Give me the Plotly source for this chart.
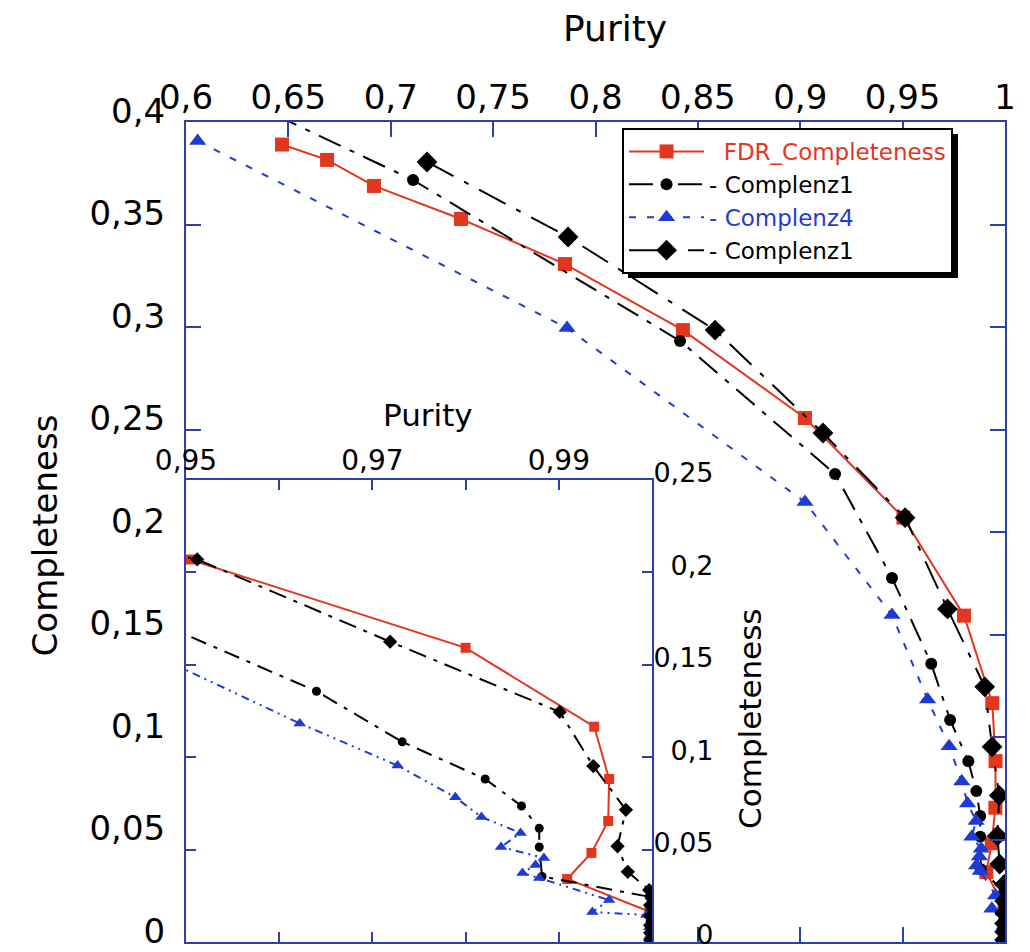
import plotly.graph_objects as go

# ---------------- data ----------------
purity_fdr = [0.6469, 0.6689, 0.6918, 0.7343, 0.7851, 0.8427, 0.9023, 0.9504,
              0.9800, 0.9938, 0.9954, 0.9953, 0.9935, 0.9909, 0.9997, 1.0000, 1.0000]
compl_fdr = [0.3890, 0.3815, 0.3688, 0.3527, 0.3307, 0.2985, 0.2556, 0.2070,
             0.1592, 0.1165, 0.0882, 0.0655, 0.0482, 0.0341, 0.0165, 0.0080, 0.0020]

purity_cz1a = [0.6000, 0.7109, 0.8413, 0.9170, 0.9448, 0.9640, 0.9732, 0.9821,
               0.9860, 0.9879, 0.9879, 0.9882, 0.9997, 0.9998, 0.9998, 0.9998]
compl_cz1a = [0.4240, 0.3717, 0.2932, 0.2283, 0.1776, 0.1357, 0.1083, 0.0882,
              0.0736, 0.0615, 0.0514, 0.0355, 0.0245, 0.0170, 0.0110, 0.0060]

purity_cz4 = [0.6057, 0.7861, 0.9023, 0.9448, 0.9622, 0.9727, 0.9789, 0.9817,
              0.9859, 0.9838, 0.9884, 0.9875, 0.9861, 0.9879, 0.9954, 0.9936,
              0.9994, 0.9997, 0.9997]
compl_cz4 = [0.3907, 0.2995, 0.2146, 0.1595, 0.1183, 0.0955, 0.0783, 0.0676,
             0.0590, 0.0514, 0.0455, 0.0417, 0.0373, 0.0346, 0.0227, 0.0162,
             0.0146, 0.0080, 0.0030]

purity_cz1b = [0.7177, 0.7866, 0.8584, 0.9111, 0.9512, 0.9719, 0.9901, 0.9937,
               0.9972, 0.9963, 0.9974, 0.9997, 0.9998, 0.9998, 0.9998, 0.9998, 0.9998]
compl_cz1b = [0.3805, 0.3439, 0.2985, 0.2483, 0.2070, 0.1625, 0.1245, 0.0952,
              0.0715, 0.0518, 0.0380, 0.0281, 0.0200, 0.0140, 0.0090, 0.0050, 0.0010]

series_names = ["FDR_Completeness", "Complenz1", "Complenz4", "Complenz1"]

inset_x_ticks = [0.95, 0.96, 0.97, 0.98, 0.99, 1.00]
inset_x_labels = ["0,95", "", "0,97", "", "0,99", ""]
inset_y_ticks = [0, 0.05, 0.10, 0.15, 0.20, 0.25]
inset_y_labels = ["\u2008\u2007\u20070", "0,05", "\u20070,1", "0,15", "\u20070,2", "0,25"]

# ---------------- style ----------------
AXIS_BLUE = "#2f3fae"
RED = "#e2361f"
BLUE = "#1f3bd6"
BLACK = "#000000"
FONT = "DejaVu Sans"

styles = [
    dict(x=purity_fdr, y=compl_fdr, color=RED, symbol="square", dash="solid",
         dash_in="solid", size=14, size_in=10,
         label='\u00a0\u00a0<span style="color:%s">%s</span>' % (RED, series_names[0])),
    dict(x=purity_cz1a, y=compl_cz1a, color=BLACK, symbol="circle",
         dash="24px,10px,5px,10px", dash_in="16px,8px,4px,8px", size=12, size_in=9,
         label="- " + series_names[1]),
    dict(x=purity_cz4, y=compl_cz4, color=BLUE, symbol="triangle-up",
         dash="7px,11px", dash_in="2px,5px,2px,5px,8px,5px", size=15, size_in=11,
         label='<span style="color:%s">- %s</span>' % (BLUE, series_names[2])),
    dict(x=purity_cz1b, y=compl_cz1b, color=BLACK, symbol="diamond",
         dash="30px,12px,5px,12px", dash_in="18px,8px,4px,8px", size=16, size_in=11,
         label="- " + series_names[3]),
]

fig = go.Figure()

for s in styles:
    fig.add_trace(go.Scatter(
        x=s["x"], y=s["y"], mode="lines+markers", name=s["label"],
        line=dict(color=s["color"], width=2, dash=s["dash"]),
        marker=dict(symbol=s["symbol"], size=s["size"], color=s["color"]),
        xaxis="x", yaxis="y", cliponaxis=True))

for s in styles:
    fig.add_trace(go.Scatter(
        x=s["x"], y=s["y"], mode="lines+markers", showlegend=False,
        line=dict(color=s["color"], width=2, dash=s["dash_in"]),
        marker=dict(symbol=s["symbol"], size=s["size_in"], color=s["color"]),
        xaxis="x2", yaxis="y2", cliponaxis=True))

axis_common = dict(showline=True, linecolor=AXIS_BLUE, linewidth=2, ticks="inside",
                   tickcolor=AXIS_BLUE, tickwidth=2, mirror="allticks",
                   showgrid=False, zeroline=False, ticklabeloverflow="allow",
                   automargin=False)

# page body has an 8px margin: the figure is sized/offset to compensate
fig.update_layout(
    width=1022, height=944,
    margin=dict(l=178, r=25, t=114, b=10, autoexpand=False),
    paper_bgcolor="white", plot_bgcolor="white",
    separators=",.",
    font=dict(family=FONT, color="black"),
    xaxis=dict(range=[0.6, 1.0], side="top", tick0=0.6, dtick=0.05, ticklen=15,
               tickfont=dict(family=FONT, size=34, color="black"),
               ticklabelstandoff=-3, domain=[0, 1], anchor="y", **axis_common),
    yaxis=dict(range=[0, 0.4], tick0=0, dtick=0.05, ticklen=15,
               tickfont=dict(family=FONT, size=34, color="black"),
               ticklabelstandoff=12, ticklabelshift=-11,
               domain=[0, 1], anchor="x", **axis_common),
    xaxis2=dict(range=[0.95, 1.0], side="top", tickmode="array",
                tickvals=inset_x_ticks, ticktext=inset_x_labels, ticklen=10,
                tickfont=dict(family=FONT, size=28, color="black"),
                ticklabelstandoff=-3, domain=[0, 0.569], anchor="y2", **axis_common),
    yaxis2=dict(range=[0, 0.25], side="right", tickmode="array",
                tickvals=inset_y_ticks, ticktext=inset_y_labels, ticklen=10,
                tickfont=dict(family=FONT, size=27, color="black"),
                ticklabelstandoff=-6, ticklabelshift=-7,
                domain=[0, 0.5634], anchor="x2", **axis_common),
    legend=dict(x=0.5324, y=0.9927, xanchor="left", yanchor="top",
                bgcolor="white", bordercolor="black", borderwidth=2,
                font=dict(family=FONT, size=23, color="black"),
                itemwidth=75, tracegroupgap=0),
    showlegend=True,
)

annotations = [
    dict(text="Purity", x=0.524, y=1.1146, xref="paper", yref="paper",
         xanchor="center", yanchor="middle",
         showarrow=False, font=dict(family=FONT, size=36, color="black")),
    dict(text="Completeness", x=-0.172, y=0.496, xref="paper", yref="paper",
         xanchor="center", yanchor="middle",
         showarrow=False, textangle=-90, font=dict(family=FONT, size=34, color="black")),
    dict(text="Purity", x=0.2955, y=0.643, xref="paper", yref="paper",
         xanchor="center", yanchor="middle",
         showarrow=False, font=dict(family=FONT, size=31, color="black")),
    dict(text="Completeness", x=0.6886, y=0.272, xref="paper", yref="paper",
         xanchor="center", yanchor="middle",
         showarrow=False, textangle=-90, font=dict(family=FONT, size=31, color="black")),
]
fig.update_layout(annotations=annotations)

# legend drop shadow
fig.add_shape(type="rect", xref="paper", yref="paper",
              x0=0.5397, x1=0.9426, y0=0.8098, y1=0.9854,
              fillcolor="black", line=dict(width=0), layer="above")

fig.write_html("out.html")
